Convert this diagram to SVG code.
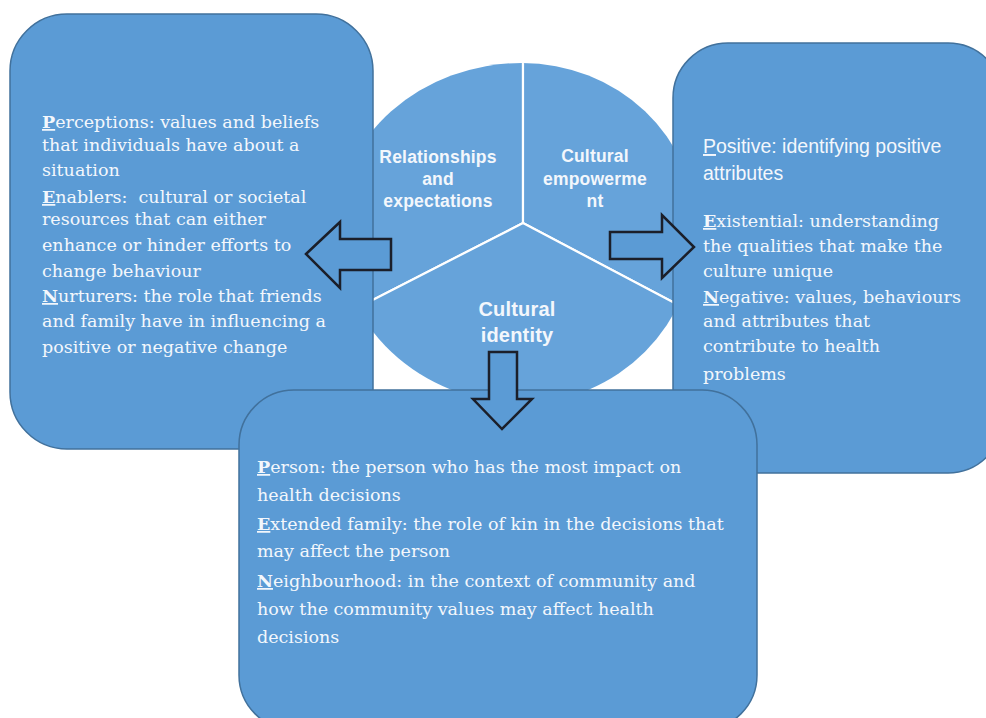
<svg xmlns="http://www.w3.org/2000/svg" width="986" height="718" viewBox="0 0 986 718">
<style>
.box{fill:#5b9bd5;stroke:#41719c;stroke-width:1.5}
.sector{fill:#66a3da;stroke:#ffffff;stroke-width:2.2}
.arrow{fill:#5b9bd5;stroke:#1b1f2a;stroke-width:2.5;stroke-linejoin:miter}
.body{font-family:"DejaVu Serif","Liberation Serif",serif;font-size:17.5px;fill:#f3f7fc}
.sans{font-family:"Liberation Sans",Arial,sans-serif;font-size:19.5px;fill:#f3f7fc}
.lbl{font-family:"Liberation Sans",Arial,sans-serif;font-weight:bold;font-size:17.5px;fill:#f3f7fc;text-anchor:middle;letter-spacing:0.2px}
.lbl2{font-family:"Liberation Sans",Arial,sans-serif;font-weight:bold;font-size:20px;fill:#f3f7fc;text-anchor:middle;letter-spacing:0.2px}
.k{font-weight:bold;text-decoration:underline}
</style>
<defs>
<clipPath id="disc">
<path d="M522,63 A174,165 0 0 1 696,228 A174,175 0 0 1 522,403 A185,175 0 0 1 337,228 A185,165 0 0 1 522,63 Z"/>
</clipPath>
</defs>

<g id="circle" clip-path="url(#disc)">
<g id="sector-relationships">
<polygon class="sector" points="523,223 523,40 320,40 320,327"/>
</g>
<g id="sector-empowerment">
<polygon class="sector" points="523,223 523,40 720,40 720,327"/>
</g>
<g id="sector-identity">
<polygon class="sector" points="523,223 320,327 320,420 720,420 720,327"/>
</g>
</g>
<g id="circle-labels">
<text class="lbl" x="438" y="163">Relationships</text>
<text class="lbl" x="438" y="185">and</text>
<text class="lbl" x="438" y="207">expectations</text>
<text class="lbl" x="595" y="162">Cultural</text>
<text class="lbl" x="595" y="185">empowerme</text>
<text class="lbl" x="595" y="207">nt</text>
<text class="lbl2" x="517" y="316">Cultural</text>
<text class="lbl2" x="517" y="342">identity</text>
</g>

<g id="box-left">
<rect class="box" x="10" y="14" width="363" height="435" rx="57" ry="57"/>
<text class="body" x="42" y="128"><tspan class="k">P</tspan>erceptions: values and beliefs</text>
<text class="body" x="42" y="151">that individuals have about a</text>
<text class="body" x="42" y="176">situation</text>
<text class="body" x="42" y="203"><tspan class="k">E</tspan>nablers: &#160;cultural or societal</text>
<text class="body" x="42" y="225">resources that can either</text>
<text class="body" x="42" y="251">enhance or hinder efforts to</text>
<text class="body" x="42" y="277">change behaviour</text>
<text class="body" x="42" y="302"><tspan class="k">N</tspan>urturers: the role that friends</text>
<text class="body" x="42" y="327">and family have in influencing a</text>
<text class="body" x="42" y="353">positive or negative change</text>
</g>

<g id="box-right">
<rect class="box" x="673" y="43" width="330" height="430" rx="55" ry="55"/>
<text class="sans" x="703" y="153"><tspan text-decoration="underline">P</tspan>ositive: identifying positive</text>
<text class="sans" x="703" y="180">attributes</text>
<text class="body" x="703" y="227"><tspan class="k">E</tspan>xistential: understanding</text>
<text class="body" x="703" y="252">the qualities that make the</text>
<text class="body" x="703" y="277">culture unique</text>
<text class="body" x="703" y="303"><tspan class="k">N</tspan>egative: values, behaviours</text>
<text class="body" x="703" y="327">and attributes that</text>
<text class="body" x="703" y="352">contribute to health</text>
<text class="body" x="703" y="380">problems</text>
</g>

<g id="box-bottom">
<rect class="box" x="239" y="390" width="518" height="340" rx="55" ry="55"/>
<text class="body" x="257" y="473"><tspan class="k">P</tspan>erson: the person who has the most impact on</text>
<text class="body" x="257" y="501">health decisions</text>
<text class="body" x="257" y="530"><tspan class="k">E</tspan>xtended family: the role of kin in the decisions that</text>
<text class="body" x="257" y="557">may affect the person</text>
<text class="body" x="257" y="587"><tspan class="k">N</tspan>eighbourhood: in the context of community and</text>
<text class="body" x="257" y="615">how the community values may affect health</text>
<text class="body" x="257" y="643">decisions</text>
</g>

<g id="connectors">
<polygon class="arrow" points="306,254 340,222 340,239 391,239 391,270 340,270 340,288"/>
<polygon class="arrow" points="610,232 662,232 662,215 694,247 662,278 662,259 610,259"/>
<polygon class="arrow" points="489,352 517,352 517,399 532,399 502,429 473,399 489,399"/>
</g>
</svg>
